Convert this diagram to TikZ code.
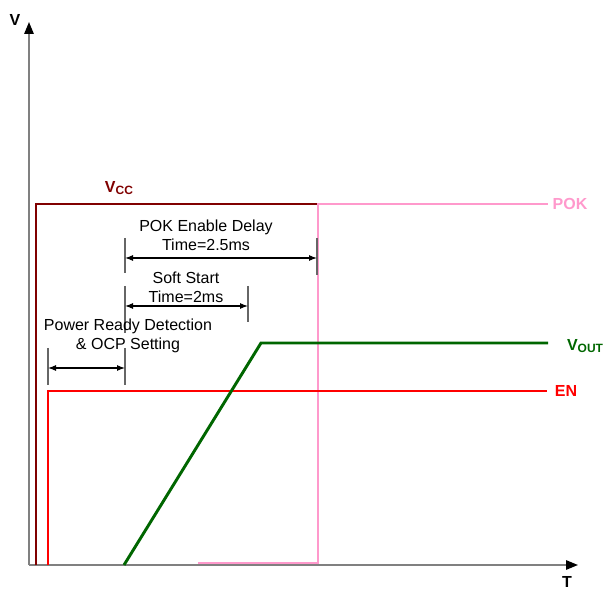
\documentclass[tikz,border=0pt]{standalone}
\usepackage{fontspec}
\setmainfont{Liberation Sans}
\usepackage{color}
\usepackage{tikz}
\usetikzlibrary{arrows.meta}

\definecolor{vccred}{RGB}{128,0,0}
\definecolor{pokpink}{RGB}{255,153,204}
\definecolor{outgreen}{RGB}{0,102,0}
\newcommand{\lowsub}[1]{\raisebox{-0.3ex}{\fontsize{9}{9}\selectfont #1}}

\begin{document}
\begin{tikzpicture}[x=0.75pt, y=-0.75pt,
    trace/.style={line width=2.2pt},
    axisline/.style={line width=1.4pt, black!50, -{Triangle[black, length=9pt, width=7pt]}},
    tickline/.style={line width=0.8pt, black!60},
    dimline/.style={line width=0.8pt, black, {Latex[length=6pt, width=4.5pt]}-{Latex[length=6pt, width=4.5pt]}},
    dimtext/.style={font=\fontsize{12}{14.2}\selectfont, align=center, inner sep=0pt},
    siglabel/.style={font=\fontsize{12}{14}\selectfont\bfseries, inner sep=0pt}]
    \useasboundingbox (0,0) rectangle (603,591);

    % axes
    \coordinate (origin) at (29,565);
    \draw[axisline] (origin) -- (29,22);
    \draw[axisline] (origin) -- (578,565);
    \node[siglabel] (vlabel) at (15,20) {V};
    \node[siglabel] (tlabel) at (567,582) {T};

    % signals
    \draw[trace, vccred] (36,565) -- (36,204) -- (537,204);
    \draw[trace, pokpink] (198,563) -- (318,563) -- (318,204) -- (548,204);
    \draw[trace, red] (48,565) -- (48,391) -- (547,391);
    \draw[trace, outgreen] (124,565) -- (261,343) -- (548,343);

    \node[siglabel, text=vccred] (vcc) at (119,188) {V\lowsub{CC}};
    \node[siglabel, text=pokpink] (pok) at (570,204) {POK};
    \node[siglabel, text=outgreen] (vout) at (585,346) {V\lowsub{OUT}};
    \node[siglabel, text=red] (en) at (566,391) {EN};

    % timing marks
    \draw[tickline] (125,238) -- (125,273);
    \draw[tickline] (317,238) -- (317,275);
    \draw[tickline] (125,286) -- (125,333);
    \draw[tickline] (248,286) -- (248,322);
    \draw[tickline] (48,348) -- (48,385);
    \draw[tickline] (125,348) -- (125,385);

    \coordinate (pokA) at (125,258);
    \coordinate (pokB) at (317,258);
    \coordinate (ssA) at (125,306);
    \coordinate (ssB) at (248,306);
    \coordinate (prA) at (48,368);
    \coordinate (prB) at (125,368);
    \draw[dimline] (pokA) -- (pokB);
    \draw[dimline] (ssA) -- (ssB);
    \draw[dimline] (prA) -- (prB);

    \node[dimtext] (pokdelay) at (206,235.5) {POK Enable Delay\\Time=2.5ms};
    \node[dimtext] (softstart) at (186,287.5) {Soft Start\\Time=2ms};
    \node[dimtext] (powready) at (128,336) {Power Ready Detection\\\& OCP Setting};
\end{tikzpicture}
\end{document}
